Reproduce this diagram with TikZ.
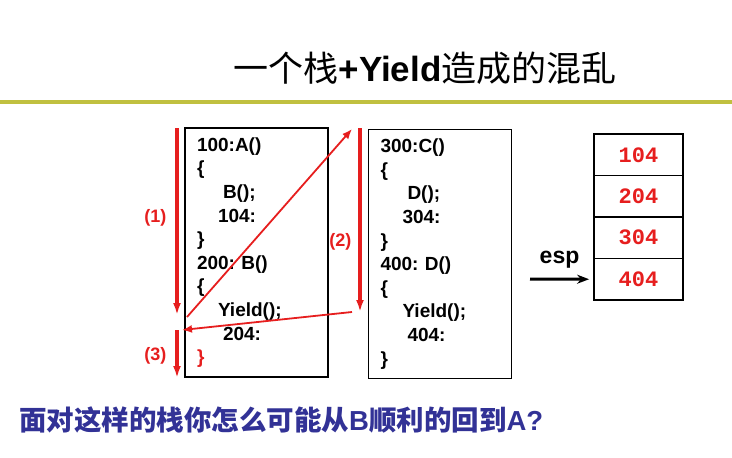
\documentclass[tikz,border=0pt]{standalone}
\usepackage{xcolor}
\usepackage{fontspec}
\usepackage{tikz}
\usetikzlibrary{arrows.meta,positioning,calc}
\setmainfont{Liberation Sans}
\newfontfamily\cjk{Noto Sans CJK SC}
\newfontfamily\stackmono{Liberation Mono}
\definecolor{arrowred}{RGB}{230,30,30}
\definecolor{ruleolive}{RGB}{192,192,64}
\definecolor{questionblue}{RGB}{50,50,150}
\newcommand{\codesize}{\frenchspacing\bfseries\fontsize{19}{23.6}\selectfont}
\newcommand{\stacksize}{\stackmono\bfseries\fontsize{22}{24}\selectfont}
\tikzset{
    codebox/.style={draw, line width=1.8pt, minimum width=143pt, minimum height=249pt,
        inner xsep=12pt, inner ysep=0pt, text width=119pt, align=left, font=\codesize},
    cell/.style={draw, line width=1.8pt, minimum width=89pt, minimum height=41.5pt,
        inner sep=0pt, font=\stacksize, text=arrowred},
    flowarrow/.style={draw=arrowred, line width=3.4pt, -{Latex[length=12pt,width=8pt]}},
    jumparrow/.style={draw=arrowred, line width=1.8pt, -{Latex[length=10pt,width=8pt]}},
    steplabel/.style={text=arrowred, font=\bfseries\fontsize{18}{20}\selectfont, inner sep=0pt},
    espline/.style={line width=3pt, -{Stealth[length=12pt,width=9pt]}},
    ruleline/.style={draw=ruleolive, line width=4pt}
}

\begin{document}
\begin{tikzpicture}[x=1pt, y=-1pt]
    \useasboundingbox (0,0) rectangle (732,458);

    % title and rule
    \node (title) at (425,68) {\fontsize{35}{38}\selectfont{\cjk 一个栈}\textbf{+Yield}{\cjk 造成的混乱}};
    \coordinate (ruleL) at (0,102);
    \coordinate (ruleR) at (732,102);
    \draw[ruleline] (ruleL) -- (ruleR);

    % the two code blocks
    \node[codebox] (boxA) at (256.5,252.5) {
        100:A()\\
        \{\\
        \hspace*{26pt}B();\\
        \hspace*{21pt}104:\\
        \}\\
        200: B()\\
        \{\\
        \hspace*{21pt}Yield();\\
        \hspace*{26pt}204:\\
        \textcolor{arrowred}{\}}
    };
    \node[codebox] (boxC) at (440,254) {
        300:C()\\
        \{\\
        \hspace*{27pt}D();\\
        \hspace*{22pt}304:\\
        \}\\
        400: D()\\
        \{\\
        \hspace*{22pt}Yield();\\
        \hspace*{27pt}404:\\
        \}
    };

    % the stack
    \node[cell] (s1) at (638.5,154.75) {104};
    \node[cell] (s2) at (638.5,196.25) {204};
    \node[cell] (s3) at (638.5,237.75) {304};
    \node[cell] (s4) at (638.5,279.25) {404};

    \coordinate (espstart) at (530,279);
    \draw[espline] (espstart) -- ([xshift=-4pt]s4.west)
        node[midway, above=9pt, inner sep=0pt, font=\bfseries\fontsize{23}{25}\selectfont] (esp) {esp};

    % control flow
    \coordinate (top1) at (177,128);
    \coordinate (end1) at (177,315);
    \coordinate (top2) at (360,128);
    \coordinate (end2) at (360,312);
    \coordinate (top3) at (177,330);
    \coordinate (end3) at (177,378);
    \coordinate (yieldB) at (187,317);
    \coordinate (enterC) at (352,129);
    \coordinate (yieldD) at (352,312);
    \coordinate (backB) at (182,330);

    \draw[flowarrow] (top1) -- (end1) node[pos=0.48, left=9pt, steplabel] (lab1) {(1)};
    \draw[flowarrow] (top2) -- (end2) node[pos=0.62, left=7pt, steplabel] (lab2) {(2)};
    \draw[flowarrow] (top3) -- (end3) node[pos=0.53, left=9pt, steplabel] (lab3) {(3)};
    \draw[jumparrow] (yieldB) -- (enterC);
    \draw[jumparrow] (yieldD) -- (backB);

    % question
    \node[anchor=west, inner sep=0pt, text=questionblue] (question) at (19,420)
        {\fontsize{27.5}{30}\selectfont{\cjk\bfseries 面对这样的栈你怎么可能从}\textbf{B}{\cjk\bfseries 顺利的回到}\textbf{A?}};
\end{tikzpicture}
\end{document}
